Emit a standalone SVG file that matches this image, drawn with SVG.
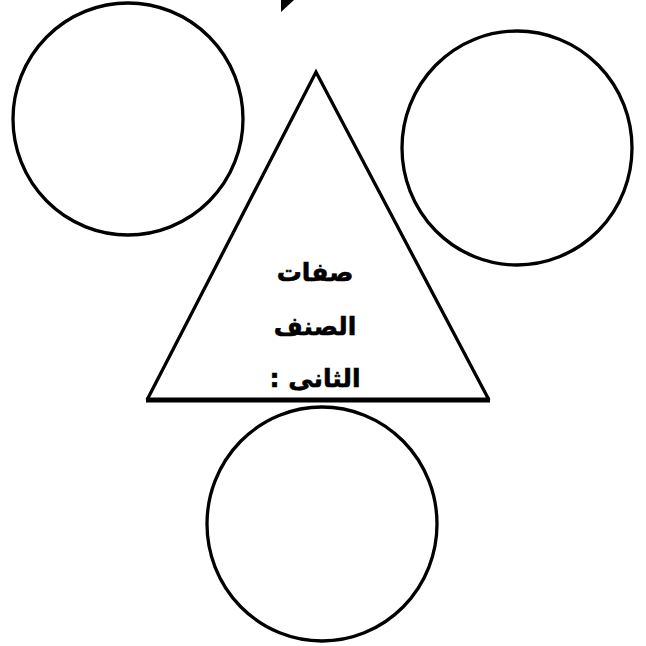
<svg xmlns="http://www.w3.org/2000/svg" width="646" height="646" viewBox="0 0 646 646">
<style>
.c{fill:none;stroke:#000;stroke-width:3.3}
.t{font-family:"DejaVu Sans","Liberation Sans",Arial,sans-serif;font-weight:bold;font-size:25px;fill:#000;stroke:#000;stroke-width:0.6;text-anchor:middle}
</style>
<rect width="646" height="646" fill="#fff"/>
<g id="arrow-tip"><polygon points="281,0 294,0 281,12" fill="#000"/></g>
<g id="circle-left"><ellipse class="c" cx="128" cy="119" rx="115" ry="116"/></g>
<g id="circle-right"><ellipse class="c" cx="517" cy="148" rx="115" ry="117"/></g>
<g id="circle-bottom"><ellipse class="c" cx="322" cy="524" rx="115" ry="117"/></g>
<g id="triangle">
<polyline class="c" points="147,400 316,72 489,400"/>
<line x1="146" y1="400" x2="490" y2="400" stroke="#000" stroke-width="5"/>
<text class="t" x="315" y="281" direction="rtl">صفات</text>
<text class="t" x="315" y="335" direction="rtl">الصنف</text>
<text class="t" x="315" y="387" direction="rtl">الثانى :</text>
</g>
</svg>
